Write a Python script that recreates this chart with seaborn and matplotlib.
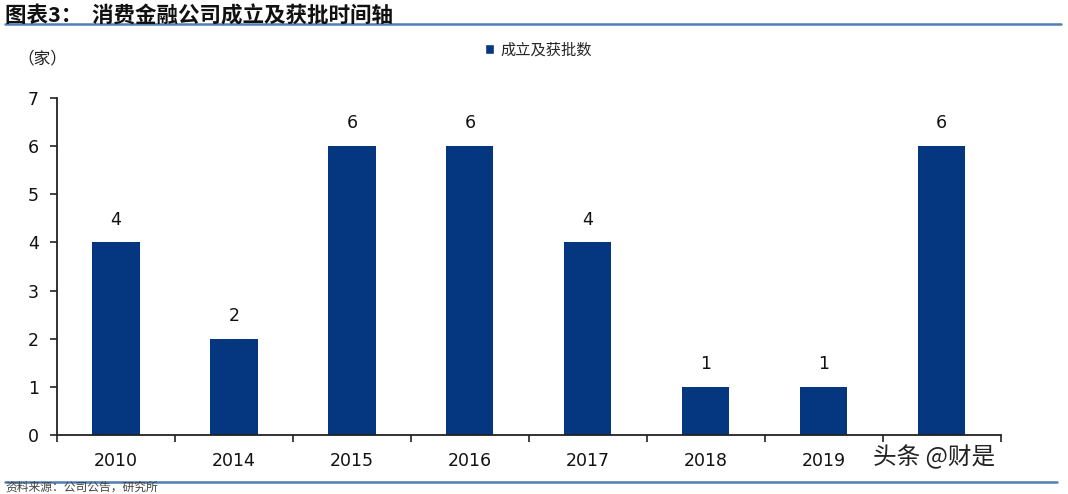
import matplotlib
matplotlib.use("Agg")
import matplotlib.pyplot as plt
import seaborn as sns
import pandas as pd
from matplotlib.patches import Patch

years = ["2010", "2014", "2015", "2016", "2017", "2018", "2019", "2020"]
tick_labels = ["2010", "2014", "2015", "2016", "2017", "2018", "2019", ""]
counts = [4, 2, 6, 6, 4, 1, 1, 6]
series_name = "成立及获批数"
title = "图表3：  消费金融公司成立及获批时间轴"
unit = "（家）"
watermark = "头条 @财是"
source = "资料来源：公司公告，研究所"

sns.set_theme(style="white")
plt.rcParams['font.family'] = ['Noto Sans CJK SC', 'DejaVu Sans']
plt.rcParams['axes.unicode_minus'] = False

df = pd.DataFrame({"year": years, "count": counts, "series": series_name})

fig = plt.figure(figsize=(10.68, 4.94), dpi=100)
ax = fig.add_axes([0.0534, 0.1194, 0.937 - 0.0534, 0.8016 - 0.1194])
bar_color = "#053780"
sns.barplot(data=df, x="year", y="count", hue="series", order=years,
            palette=[bar_color], width=0.4, ax=ax, legend=False, saturation=1,
            linewidth=0)

ax.set_xlim(-0.5, len(years) - 0.5)
ax.set_ylim(0, 7)
ax.set_yticks(range(0, 8))
ax.set_yticklabels([str(i) for i in range(0, 8)], fontsize=12.5, family='DejaVu Sans', color="#111111")
ax.set_xticks(range(len(years)))
ax.set_xticklabels(tick_labels, fontsize=12.5, family='DejaVu Sans', color="#111111")
ax.set_xticks([i - 0.5 for i in range(len(years) + 1)], minor=True)
ax.tick_params(axis='x', which='major', length=0, pad=12)
ax.tick_params(axis='x', which='minor', length=5, width=1.2, color="#222222", direction='out', bottom=True)
ax.tick_params(axis='y', which='major', length=5, width=1.2, color="#222222", direction='out', left=True, pad=8)
ax.set_xlabel("")
ax.set_ylabel("")
for s in ["top", "right"]:
    ax.spines[s].set_visible(False)
for s in ["left", "bottom"]:
    ax.spines[s].set_color("#222222")
    ax.spines[s].set_linewidth(1.3)

for c in ax.containers:
    ax.bar_label(c, labels=[str(v) for v in counts], padding=10, fontsize=12.5,
                 family='DejaVu Sans', color="#111111")

ax.legend(handles=[Patch(facecolor=bar_color, label=series_name)], loc="center",
          bbox_to_anchor=(0.51, 1.142), frameon=False, fontsize=11, handlelength=0.6,
          handleheight=0.6, handletextpad=0.4)

fig.text(0.005, 0.99, title, fontsize=15.5, fontweight='heavy', va='top', ha='left', color="#111111")
fig.add_artist(plt.Line2D([0.005, 0.993], [0.952, 0.952], color="#4f7fb3", lw=1.8))
fig.text(0.016, 0.88, unit, fontsize=12, va='center', ha='left', color="#222222")
fig.add_artist(plt.Line2D([0.005, 0.99], [0.024, 0.024], color="#4f7fb3", lw=1.8))
fig.text(0.005, 0.0, source, fontsize=8.5, va='bottom', ha='left', color="#444444")
fig.text(0.875, 0.075, watermark, fontsize=17, va='center', ha='center', color="#222222")

fig.savefig("out.png", dpi=100, facecolor="white")
